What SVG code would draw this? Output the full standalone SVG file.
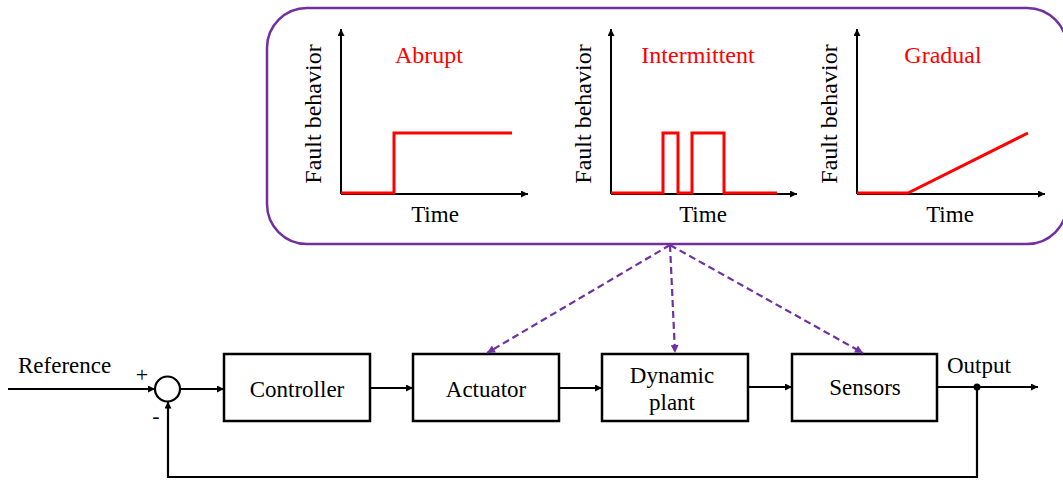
<svg xmlns="http://www.w3.org/2000/svg" width="1063" height="480" viewBox="0 0 1063 480">
<defs>
<marker id="ah" viewBox="0 0 10 10" refX="10" refY="5" markerWidth="9" markerHeight="7" markerUnits="userSpaceOnUse" orient="auto"><path d="M0,0 L10,5 L0,10 z" fill="#000"/></marker>
<marker id="ahp" viewBox="0 0 10 10" refX="10" refY="5" markerWidth="10" markerHeight="8" markerUnits="userSpaceOnUse" orient="auto"><path d="M0,0 L10,5 L0,10 z" fill="#7030A0"/></marker>
<style>
.ax{stroke:#000;stroke-width:2;fill:none}
.fault{stroke:#FF0000;stroke-width:3;fill:none}
.box{fill:#fff;stroke:#000;stroke-width:2.5}
.wire{stroke:#000;stroke-width:2.2;fill:none}
.dash{stroke:#7030A0;stroke-width:2.2;stroke-dasharray:7 4;fill:none}
</style>
</defs>

<g id="fault-panel">
<rect x="267" y="8" width="800" height="236" rx="40" ry="40" fill="#fff" stroke="#7030A0" stroke-width="2.5"/>
</g>

<g id="chart-abrupt">
<path class="ax" d="M341,194 V29" marker-end="url(#ah)"/>
<path class="ax" d="M341,194 H528" marker-end="url(#ah)"/>
<path class="fault" d="M341,193 H394 V133 H512"/>
<text font-family="Liberation Serif, serif" font-size="24" fill="#FF0000" text-anchor="middle" x="429" y="63">Abrupt</text>
<text font-family="Liberation Serif, serif" font-size="23" text-anchor="middle" x="435" y="222">Time</text>
<text font-family="Liberation Serif, serif" font-size="24" text-anchor="middle" transform="translate(321,114) rotate(-90)">Fault behavior</text>
</g>

<g id="chart-intermittent">
<path class="ax" d="M611,194 V29" marker-end="url(#ah)"/>
<path class="ax" d="M611,194 H797" marker-end="url(#ah)"/>
<path class="fault" d="M611,193 H663 V133 H678 V193 H692 V133 H724 V193 H777"/>
<text font-family="Liberation Serif, serif" font-size="24" fill="#FF0000" text-anchor="middle" x="698" y="63">Intermittent</text>
<text font-family="Liberation Serif, serif" font-size="23" text-anchor="middle" x="703" y="222">Time</text>
<text font-family="Liberation Serif, serif" font-size="24" text-anchor="middle" transform="translate(591,114) rotate(-90)">Fault behavior</text>
</g>

<g id="chart-gradual">
<path class="ax" d="M857,194 V29" marker-end="url(#ah)"/>
<path class="ax" d="M857,194 H1045" marker-end="url(#ah)"/>
<path class="fault" d="M857,193 H908 L1028,133"/>
<text font-family="Liberation Serif, serif" font-size="24" fill="#FF0000" text-anchor="middle" x="943" y="63">Gradual</text>
<text font-family="Liberation Serif, serif" font-size="23" text-anchor="middle" x="950" y="222">Time</text>
<text font-family="Liberation Serif, serif" font-size="24" text-anchor="middle" transform="translate(837,114) rotate(-90)">Fault behavior</text>
</g>

<g id="sum">
<circle cx="167.5" cy="389" r="12.5" fill="#fff" stroke="#000" stroke-width="2.2"/>
<text font-family="Liberation Serif, serif" font-size="22" x="142" y="382" text-anchor="middle">+</text>
<text font-family="Liberation Serif, serif" font-size="22" x="156" y="423" text-anchor="middle">-</text>
</g>

<g id="controller">
<rect class="box" x="224" y="354" width="146" height="67"/>
<text font-family="Liberation Serif, serif" font-size="23" text-anchor="middle" x="297" y="397">Controller</text>
</g>

<g id="actuator">
<rect class="box" x="413" y="354" width="146" height="67"/>
<text font-family="Liberation Serif, serif" font-size="23" text-anchor="middle" x="486" y="397">Actuator</text>
</g>

<g id="plant">
<rect class="box" x="602" y="354" width="146" height="67"/>
<text font-family="Liberation Serif, serif" font-size="23" text-anchor="middle" x="672" y="383">Dynamic</text>
<text font-family="Liberation Serif, serif" font-size="23" text-anchor="middle" x="672" y="410">plant</text>
</g>

<g id="sensors">
<rect class="box" x="792" y="354" width="145" height="67"/>
<text font-family="Liberation Serif, serif" font-size="23" text-anchor="middle" x="865" y="395">Sensors</text>
</g>

<g id="labels">
<text font-family="Liberation Serif, serif" font-size="23" x="18" y="373">Reference</text>
<text font-family="Liberation Serif, serif" font-size="23" x="947" y="373">Output</text>
</g>

<g id="connectors">
<path class="wire" d="M8,389 H155" marker-end="url(#ah)"/>
<path class="wire" d="M180,389 H224" marker-end="url(#ah)"/>
<path class="wire" d="M370,388 H413" marker-end="url(#ah)"/>
<path class="wire" d="M559,388 H602" marker-end="url(#ah)"/>
<path class="wire" d="M748,387 H792" marker-end="url(#ah)"/>
<path class="wire" d="M937,387 H1038" marker-end="url(#ah)"/>
<circle cx="977" cy="387" r="3.5" fill="#000"/>
<path class="wire" d="M977,387 V477 H168 V401.5" marker-end="url(#ah)"/>
<path class="dash" d="M670,245 L487,353" marker-end="url(#ahp)"/>
<path class="dash" d="M670,245 L675,353" marker-end="url(#ahp)"/>
<path class="dash" d="M670,245 L863,353" marker-end="url(#ahp)"/>
</g>
</svg>
